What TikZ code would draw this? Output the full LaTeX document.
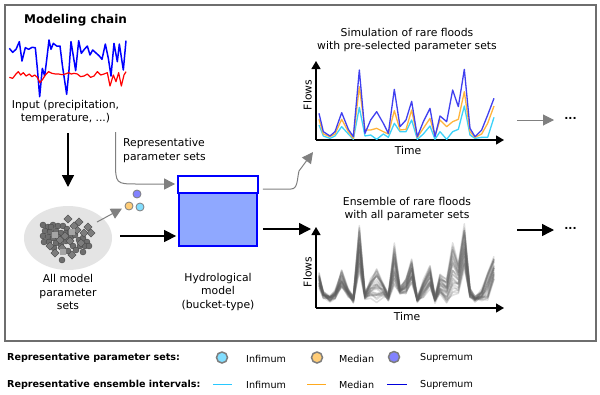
\documentclass[tikz,border=0pt]{standalone}
\usepackage{fontspec}
\setmainfont{DejaVu Sans}
\usetikzlibrary{arrows.meta,shapes.geometric}
\definecolor{frameg}{RGB}{110,110,110}
\definecolor{arrowg}{RGB}{128,128,128}
\definecolor{supc}{RGB}{64,64,240}
\definecolor{medc}{RGB}{255,180,60}
\definecolor{infc}{RGB}{60,210,250}
\definecolor{legcyan}{RGB}{130,222,255}
\definecolor{legorange}{RGB}{255,205,120}
\definecolor{legpurple}{RGB}{130,130,255}
\definecolor{lcyan}{RGB}{40,200,255}
\definecolor{lorange}{RGB}{255,170,30}
\definecolor{lblue}{RGB}{0,0,220}
\definecolor{dotborder}{RGB}{125,125,125}
\definecolor{bucketfill}{RGB}{143,168,255}
\definecolor{bucketblue}{RGB}{0,0,255}
\definecolor{ellfill}{RGB}{228,228,228}
\definecolor{scfill}{RGB}{110,110,110}
\definecolor{scdraw}{RGB}{70,70,70}
\definecolor{dmfill}{RGB}{125,125,125}
\definecolor{sqfill}{RGB}{165,165,165}
\definecolor{ensc}{RGB}{95,95,95}
\begin{document}
\begin{tikzpicture}[x=1pt,y=-1pt,
  txt/.style={font=\fontsize{10.8}{13.4}\selectfont, inner sep=0pt, align=center},
  leg/.style={font=\fontsize{9.6}{11}\selectfont, inner sep=0pt, anchor=west},
  legb/.style={font=\bfseries\fontsize{9.6}{11}\selectfont, inner sep=0pt, anchor=west},
  blk/.style={draw=black, line width=1.4pt, -{Triangle[length=12pt,width=12pt]}},
  gry/.style={draw=arrowg, line width=1pt, -{Triangle[length=11pt,width=11pt]}},
  axisline/.style={draw=black, line width=1.3pt, -{Triangle[length=8pt,width=9pt]}},
  pdot/.style={circle, draw=dotborder, line width=0.8pt, minimum size=8pt, inner sep=0pt},
  ldot/.style={circle, draw=dotborder, line width=1.5pt, minimum size=11pt, inner sep=0pt},
  sc/.style={fill=scfill, draw=scdraw, line width=0.4pt},
  dm/.style={fill=dmfill, draw=scdraw, line width=0.4pt},
  supl/.style={draw=supc, line width=1.3pt, line join=round},
  medl/.style={draw=medc, line width=1.3pt, line join=round},
  infl/.style={draw=infc, line width=1.3pt, line join=round},
  ens/.style={draw=ensc, line width=1.5pt, opacity=0.2, line join=round}]
\useasboundingbox (0,0) rectangle (600,394);
\fill[white] (0,0) rectangle (600,394);
\draw[frameg, line width=2pt] (4.5,4.5) rectangle (595.5,340.5);

% title
\node[font=\bfseries\fontsize{12}{14}\selectfont, inner sep=0pt] (title) at (75.5,20) {Modeling chain};

% input series
\begin{scope}[x=0.33333pt,y=-0.33333pt]
\draw[blue, line width=1.5pt, line join=round] plot coordinates {(28,145) (38,157) (48,148) (58,125) (66,183) (76,143) (86,148) (96,142) (106,143) (112,205) (119,290) (127,205) (134,228) (140,180) (147,120) (153,148) (160,130) (170,138) (180,138) (187,195) (200,283) (207,210) (213,125) (220,168) (227,212) (236,122) (244,160) (253,148) (262,138) (270,165) (278,150) (287,158) (298,168) (306,178) (316,132) (325,175) (333,228) (342,130) (352,185) (358,132) (370,210) (378,122)};
\draw[red, line width=1.2pt, line join=round] plot coordinates {(28,232) (38,235) (48,222) (55,215) (62,225) (70,218) (78,228) (88,222) (96,230) (104,225) (112,232) (120,248) (128,238) (136,225) (146,215) (156,220) (166,222) (176,222) (186,224) (196,222) (206,218) (214,222) (222,220) (232,222) (242,230) (252,228) (262,222) (272,232) (282,228) (292,215) (302,225) (312,222) (322,218) (330,258) (340,225) (348,245) (356,218) (364,258) (372,225) (378,215)};
\end{scope}
\node[txt] (input) at (65.5,112) {Input (precipitation,\\temperature, ...)};

% down arrow
\coordinate (d1) at (68,133);
\coordinate (d2) at (68,187);
\draw[blk] (d1) -- (d2);

% ellipse of parameter sets
\node[ellipse, fill=ellfill, minimum width=88pt, minimum height=64pt, inner sep=0pt] (allp) at (68,238) {};
\foreach \p in {(43,225),(48,227),(53,225),(58,226),(63,226),(67,229),(45,231),(50,232),(56,231),(61,233),(66,233),(43,236),(48,237),(53,238),(58,237),(44,242),(49,242),(56,243),(61,245),(66,241),(71,237),(75,235),(79,240),(83,238),(87,242),(73,246),(80,246),(85,246),(54,248),(68,251),(76,250),(83,252),(62,260),(89,246),(51,227),(70,232)}
  \filldraw[sc] \p circle[radius=3];
\foreach \p in {(68,219),(79,222),(88,227),(91,233),(55,253),(72,255),(70,241),(77,230),(84,233),(60,240),(65,236),(50,246),(74,226),(62,248),(81,243)}
  \filldraw[dm] \p +(0,-4.2) -- +(4.2,0) -- +(0,4.2) -- +(-4.2,0) -- cycle;
\foreach \p in {(63,252),(55,235),(72,232)}
  \filldraw[fill=sqfill, draw=none] \p +(-3,-3) rectangle +(3,3);
\node[txt] (allplab) at (68,292) {All model\\parameter\\sets};

% representative dots
\node[pdot, fill=legpurple] (supdot) at (137,194) {};
\node[pdot, fill=legorange] (meddot) at (129,206) {};
\node[pdot, fill=legcyan] (infdot) at (140,207) {};
\coordinate (e1) at (97,222);
\draw[gry] (e1) -- (122,208.5);

% bucket
\node[draw=bucketblue, line width=1.8pt, fill=bucketfill, minimum width=78pt, minimum height=69pt, inner sep=0pt] (bucket) at (218,211.5) {};
\draw[bucketblue, line width=1.8pt, fill=white] (bucket.north west) rectangle ([yshift=-17pt]bucket.north east);
\node[txt] (bucketlab) at (218,292) {Hydrological\\model\\(bucket-type)};

% representative parameter sets curve
\node[txt, align=left, anchor=west] (replab) at (123,150.5) {Representative\\parameter sets};
\coordinate (r0) at (115.5,132);
\draw[gry, shorten >=3pt] (r0) -- (115.5,160) .. controls (115.5,184) .. (138,184) -- (bucket.west |- 0,184);

% arrows into and out of bucket
\coordinate (inA) at (120,236);
\draw[blk, shorten >=2pt] (inA) -- (inA -| bucket.west);
\coordinate (outB) at (311,229);
\draw[blk, shorten <=5pt] (outB -| bucket.east) -- (outB);
\coordinate (simtip) at (313,152);
\draw[gry, shorten <=5pt] (bucket.east |- 0,189) -- (291,189) .. controls (298,189) and (297,179) .. (299,171) -- (simtip);

% top plot
\node[txt] (simtitle) at (407,40) {Simulation of rare floods\\with pre-selected parameter sets};
\coordinate (oA) at (316,140);
\draw[axisline] (oA) -- (316,61);
\draw[axisline] (oA) -- (504,140);
\node[txt, rotate=90] (flowsA) at (307.5,95) {Flows};
\node[txt] (timeA) at (408,150.5) {Time};
\begin{scope}[xshift=300pt,yshift=-60pt,x=0.33333pt,y=-0.33333pt]
\draw[infl] plot coordinates {(57,195) (70,228) (90,235) (105,228) (125,200) (145,222) (160,238) (178,142) (195,228) (212,225) (230,238) (250,222) (265,232) (283,190) (300,215) (318,215) (335,180) (352,238) (370,222) (390,198) (405,238) (420,215) (440,238) (458,215) (475,208) (493,138) (510,225) (525,235) (545,232) (563,232) (582,172)};
\draw[medl] plot coordinates {(57,178) (70,222) (90,230) (105,222) (125,178) (145,215) (160,235) (178,80) (195,210) (212,210) (230,205) (250,215) (265,222) (283,152) (300,210) (318,208) (335,150) (352,232) (370,205) (390,175) (405,228) (420,180) (440,200) (458,185) (475,178) (493,95) (510,215) (525,232) (545,222) (563,190) (582,138)};
\draw[supl] plot coordinates {(57,160) (70,215) (90,228) (105,215) (125,158) (145,208) (160,230) (178,30) (195,220) (212,180) (230,155) (250,190) (265,220) (283,88) (300,200) (318,180) (335,124) (352,230) (370,185) (390,145) (405,230) (420,168) (440,185) (458,90) (475,140) (493,28) (510,205) (525,230) (545,210) (563,165) (582,115)};
\end{scope}
\coordinate (ra1) at (517,120);
\coordinate (ra2) at (554,120);
\draw[gry] (ra1) -- (ra2);
\node[txt, font=\bfseries\fontsize{10.8}{13}\selectfont] (dotsA) at (570.5,118.5) {...};

% bottom plot
\node[txt] (enstitle) at (407,209) {Ensemble of rare floods\\with all parameter sets};
\coordinate (oB) at (316,308);
\draw[axisline] (oB) -- (316,227);
\draw[axisline] (oB) -- (504,308);
\node[txt, rotate=90] (flowsB) at (307.5,272) {Flows};
\node[txt] (timeB) at (407,316.5) {Time};
\pgfmathsetseed{7}
\begin{scope}[xshift=300pt,yshift=-220pt,x=0.33333pt,y=-0.33333pt]
\foreach \f in {0,0.04,...,1.16} {
  \draw[ens] (57,{265-(45+\f*35+14+14*rnd)}) foreach \x/\s/\n in {70/25/12, 90/12/5, 105/25/12, 125/82/40, 145/32/18, 160/10/2, 178/210/98, 195/20/12, 212/60/15, 230/85/2, 250/50/18, 265/20/8, 283/152/50, 300/40/25, 318/60/25, 335/116/60, 352/10/2, 370/55/18, 390/95/42, 405/10/2, 420/72/25, 440/55/2, 458/150/25, 475/100/32, 493/212/102, 510/35/15, 525/10/5, 545/30/8, 563/75/8, 582/125/68} { -- (\x,{265-(\n+\f*(\s-\n)+12+16*rnd)}) };
}
\end{scope}
\coordinate (rb1) at (517,230);
\coordinate (rb2) at (554,230);
\draw[blk] (rb1) -- (rb2);
\node[txt, font=\bfseries\fontsize{10.8}{13}\selectfont] (dotsB) at (570.5,228.5) {...};

% legend
\node[legb] (lg1) at (7,358) {Representative parameter sets:};
\node[legb] (lg2) at (7,384.5) {Representative ensemble intervals:};
\node[ldot, fill=legcyan] (lgc1) at (222,357.5) {};
\node[ldot, fill=legorange] (lgc2) at (317,357.5) {};
\node[ldot, fill=legpurple] (lgc3) at (394,357) {};
\node[leg] (lgt1) at (246,359) {Infimum};
\node[leg] (lgt2) at (339,359) {Median};
\node[leg] (lgt3) at (420,357.5) {Supremum};
\coordinate (l1a) at (213,384.5); \coordinate (l1b) at (232,384.5);
\coordinate (l2a) at (307,384.5); \coordinate (l2b) at (326,384.5);
\coordinate (l3a) at (387,384.5); \coordinate (l3b) at (407,384.5);
\draw[lcyan, line width=1.5pt] (l1a) -- (l1b);
\draw[lorange, line width=1.5pt] (l2a) -- (l2b);
\draw[lblue, line width=1.5pt] (l3a) -- (l3b);
\node[leg] (lgu1) at (246,385) {Infimum};
\node[leg] (lgu2) at (339,385) {Median};
\node[leg] (lgu3) at (420,384.5) {Supremum};
\end{tikzpicture}
\end{document}
